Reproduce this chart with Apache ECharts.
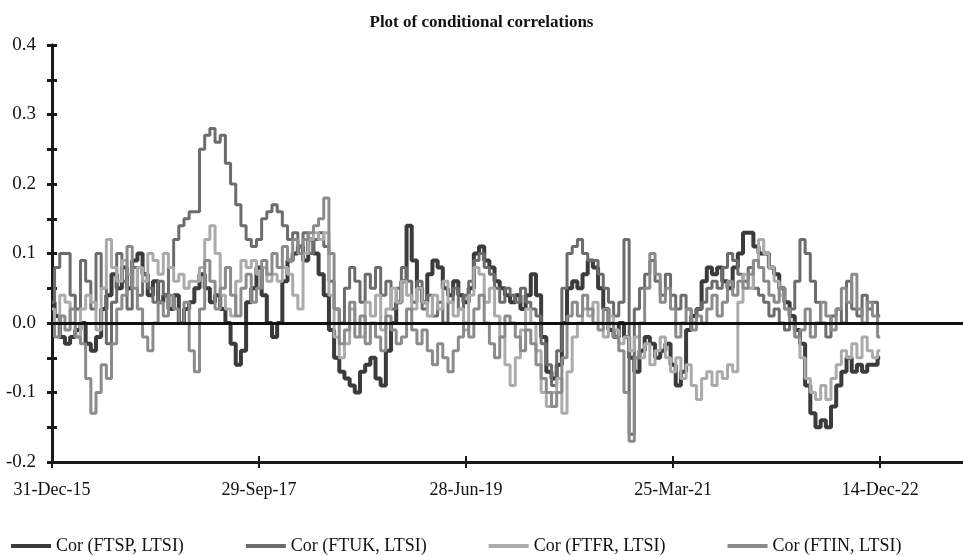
<!DOCTYPE html>
<html>
<head>
<meta charset="utf-8">
<script src="https://cdn.jsdelivr.net/npm/echarts@6/dist/echarts.min.js"></script>
<style>html,body{margin:0;padding:0;background:#fff}#c{width:963px;height:555px}</style>
</head>
<body>
<div id="c"></div>
<script>
const titleText = 'Plot of conditional correlations';
const tickLabels = ['31-Dec-15', '29-Sep-17', '28-Jun-19', '25-Mar-21', '14-Dec-22'];
const samplesPerTick = 40;
const axisSamples = 177;
const seriesNames = ['Cor (FTSP, LTSI)', 'Cor (FTUK, LTSI)', 'Cor (FTFR, LTSI)', 'Cor (FTIN, LTSI)'];

const ftsp = [0.03,0.01,-0.02,-0.03,-0.02,-0.01,0.0,-0.03,-0.04,-0.02,
0.02,0.04,0.07,0.05,0.08,0.05,0.09,0.1,0.07,0.04,
0.06,0.03,0.04,0.02,0.04,0.0,0.02,0.03,0.05,0.07,
0.05,0.03,0.04,0.02,0.0,-0.03,-0.06,-0.04,0.03,0.05,
0.08,0.04,0.0,-0.02,0.0,0.06,0.09,0.1,0.11,0.09,
0.12,0.1,0.07,0.04,-0.01,-0.05,-0.07,-0.08,-0.09,-0.1,
-0.07,-0.06,-0.05,-0.08,-0.09,-0.04,0.0,0.03,0.06,0.14,
0.09,0.05,0.03,0.07,0.09,0.08,0.05,0.04,0.06,0.04,
0.03,0.05,0.1,0.11,0.09,0.08,0.06,0.05,0.04,0.03,
0.04,0.02,0.04,0.07,0.04,-0.02,-0.07,-0.08,-0.06,0.0,
0.05,0.06,0.05,0.07,0.09,0.08,0.05,0.02,-0.01,-0.02,
0.0,-0.02,-0.05,-0.07,-0.04,-0.02,-0.03,-0.05,-0.04,-0.03,
-0.06,-0.09,-0.07,-0.01,0.01,0.02,0.06,0.08,0.07,0.08,
0.06,0.05,0.08,0.1,0.13,0.13,0.11,0.1,0.1,0.08,
0.07,0.05,0.03,0.01,-0.01,-0.03,-0.09,-0.13,-0.15,-0.14,
-0.15,-0.12,-0.09,-0.07,-0.05,-0.07,-0.06,-0.07,-0.06,-0.06,
-0.05];

const ftuk = [0.03,0.08,0.1,0.1,0.04,0.02,0.09,0.06,0.02,0.1,
0.05,-0.03,0.03,0.1,0.06,0.02,0.08,0.04,0.07,0.05,
0.03,0.06,0.04,0.08,0.12,0.14,0.15,0.16,0.16,0.25,
0.27,0.28,0.26,0.27,0.23,0.2,0.17,0.14,0.12,0.11,
0.12,0.15,0.16,0.17,0.16,0.14,0.12,0.13,0.11,0.13,
0.1,0.12,0.13,0.11,0.06,0.02,0.0,0.05,0.08,0.06,
0.03,0.07,0.05,0.08,0.04,0.06,0.02,0.05,0.08,0.06,
0.03,0.06,0.02,0.04,0.01,0.03,0.0,0.03,0.05,0.02,
0.04,0.06,0.09,0.1,0.08,0.07,0.05,0.03,0.05,0.04,
0.03,0.05,0.03,0.02,0.01,-0.03,-0.06,-0.09,-0.04,0.05,
0.1,0.11,0.12,0.1,0.09,0.09,0.07,0.05,0.03,0.01,
0.03,0.12,-0.16,0.02,0.05,0.07,0.09,0.06,0.04,0.07,
0.04,0.02,0.04,0.02,0.0,0.02,0.03,0.05,0.06,0.05,
0.08,0.1,0.09,0.07,0.06,0.08,0.05,0.04,0.03,0.01,
0.02,0.0,-0.01,0.02,0.06,0.12,0.1,0.06,0.03,0.0,
-0.02,0.01,0.02,0.0,0.06,0.02,0.01,0.04,0.02,0.03,
0.01];

const ftfr = [0.02,0.0,0.04,0.03,0.0,-0.02,0.02,0.04,0.03,-0.01,
0.05,0.12,0.08,0.06,0.09,0.07,0.05,0.08,0.06,0.1,
0.09,0.07,0.1,0.08,0.06,0.07,0.05,0.06,0.06,0.08,
0.12,0.14,0.1,0.04,0.02,0.01,0.06,0.09,0.08,0.09,
0.07,0.08,0.06,0.07,0.06,0.08,0.07,0.04,0.02,0.1,
0.12,0.13,0.12,0.13,0.04,-0.02,-0.05,-0.03,0.02,0.0,
-0.02,0.03,0.01,0.04,-0.01,0.02,0.05,0.03,0.06,0.04,
0.02,0.05,0.03,0.01,0.04,0.02,0.06,0.03,0.01,0.02,
-0.01,0.04,0.08,0.07,0.03,0.05,0.01,-0.02,-0.06,-0.09,
-0.05,-0.01,0.02,0.0,-0.04,-0.1,-0.12,-0.1,-0.08,-0.13,
-0.07,-0.02,0.0,0.02,0.01,0.03,0.0,-0.02,0.01,-0.01,
-0.03,-0.02,-0.04,-0.02,-0.05,-0.03,-0.06,-0.04,-0.02,-0.05,
-0.07,-0.05,-0.08,-0.06,-0.09,-0.11,-0.08,-0.07,-0.09,-0.07,
-0.08,-0.06,-0.07,0.03,0.07,0.05,0.09,0.12,0.1,0.08,
0.06,0.04,0.02,0.0,-0.02,-0.05,-0.08,-0.1,-0.11,-0.09,
-0.11,-0.08,-0.06,-0.04,-0.05,-0.03,-0.05,-0.02,-0.04,-0.05,
-0.04];

const ftin = [0.0,-0.02,0.01,-0.01,0.02,-0.02,-0.03,-0.08,-0.13,-0.1,
-0.06,-0.08,-0.03,0.02,0.04,0.11,0.05,0.02,-0.02,-0.04,
0.0,0.03,0.01,0.04,0.02,0.0,0.03,-0.04,-0.07,0.02,
0.09,0.06,0.02,0.05,0.08,0.04,0.01,0.05,0.07,0.03,
0.05,0.09,0.07,0.1,0.08,0.11,0.09,0.12,0.1,0.12,
0.13,0.14,0.15,0.18,0.1,0.02,-0.03,-0.01,0.03,-0.02,
0.01,-0.03,0.0,-0.02,-0.04,0.01,-0.01,-0.03,-0.02,0.02,
-0.01,-0.03,-0.01,-0.04,-0.06,-0.03,-0.05,-0.07,-0.04,-0.02,
0.0,-0.02,0.02,0.04,0.0,-0.03,-0.05,-0.02,0.01,0.0,
-0.02,-0.04,-0.01,-0.03,-0.06,-0.08,-0.1,-0.12,-0.1,-0.05,
0.01,0.03,0.01,0.04,0.02,0.0,-0.01,0.02,0.0,-0.02,
-0.04,-0.1,-0.17,-0.05,0.0,0.05,0.1,0.07,0.03,0.05,
0.02,-0.02,0.0,0.02,-0.01,0.01,0.0,0.02,0.04,0.01,
0.03,0.06,0.04,0.06,0.05,0.07,0.09,0.08,0.06,0.04,
0.03,0.05,0.02,0.0,-0.02,-0.01,0.02,-0.02,0.0,0.03,
0.01,-0.01,0.02,0.05,0.03,0.07,0.02,0.0,0.03,0.01,
-0.02];

const seriesData = [ftsp, ftuk, ftfr, ftin];
const colors = ['#3b3b3b', '#6c6c6c', '#ababab', '#8b8b8b'];
const widths = [4, 3, 3, 3];

const categories = Array.from({length: axisSamples}, (_, i) =>
  (i % samplesPerTick === 0 && tickLabels[i / samplesPerTick]) ? tickLabels[i / samplesPerTick] : '');

const FONT = '"Liberation Serif", "Times New Roman", serif';
const AX = '#1a1a1a';

const chart = echarts.init(document.getElementById('c'), null, {renderer: 'canvas'});

const xBase = {
  type: 'category', data: categories, boundaryGap: false, position: 'bottom',
  axisLine: {show: true, onZero: false, lineStyle: {color: AX, width: 3}},
  splitLine: {show: false}
};
const yBase = {
  type: 'value', min: -0.2, max: 0.4, interval: 0.05, position: 'left',
  axisLine: {show: true, lineStyle: {color: AX, width: 3}},
  splitLine: {show: false}
};

const option = {
  animation: false,
  backgroundColor: '#ffffff',
  color: colors,
  title: {
    text: titleText, left: 'center', top: 9,
    textStyle: {fontFamily: FONT, fontSize: 17, fontWeight: 'bold', color: '#111'}
  },
  grid: {left: 52, right: 0, top: 45, bottom: 93, containLabel: false},
  xAxis: [
    Object.assign({}, xBase, {
      axisTick: {show: true, interval: samplesPerTick - 1, length: 6, inside: false, lineStyle: {color: AX, width: 2}},
      axisLabel: {show: true, interval: samplesPerTick - 1, margin: 19, fontFamily: FONT, fontSize: 18, color: '#111'}
    }),
    Object.assign({}, xBase, {
      axisTick: {show: true, interval: samplesPerTick - 1, length: 6, inside: true, lineStyle: {color: AX, width: 2}},
      axisLabel: {show: false}
    })
  ],
  yAxis: [
    Object.assign({}, yBase, {
      axisTick: {show: true, length: 5, inside: false, lineStyle: {color: AX, width: 3}},
      axisLabel: {
        show: true, margin: 16, fontFamily: FONT, fontSize: 19, color: '#111',
        formatter: v => (Math.abs(Math.round(v * 20)) % 2 === 0) ? v.toFixed(1) : ''
      }
    }),
    Object.assign({}, yBase, {
      axisTick: {show: true, length: 5, inside: true, lineStyle: {color: AX, width: 3}},
      axisLabel: {show: false}
    })
  ],
  legend: {
    top: 532, left: 6, itemGap: 62, itemWidth: 40, itemHeight: 4, icon: 'rect',
    textStyle: {fontFamily: FONT, fontSize: 18, color: '#111'},
    data: seriesNames
  },
  series: seriesNames.map((name, k) => ({
    name: name, type: 'line', data: seriesData[k], xAxisIndex: 0, yAxisIndex: 0,
    showSymbol: false, symbol: 'none', step: 'middle',
    lineStyle: {color: colors[k], width: widths[k]},
    itemStyle: {color: colors[k]},
    markLine: k === 3 ? {
      silent: true, symbol: ['none', 'none'], label: {show: false},
      lineStyle: {color: '#111', width: 3, type: 'solid'},
      data: [{yAxis: 0}]
    } : undefined
  }))
};
chart.setOption(option);
</script>
</body>
</html>
